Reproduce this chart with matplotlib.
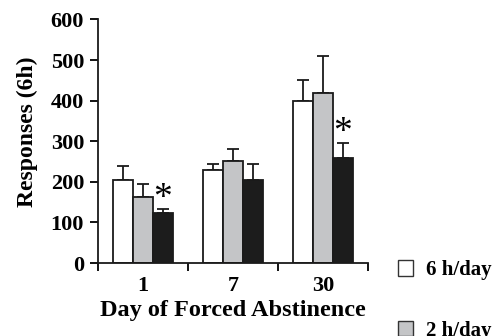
import matplotlib
matplotlib.use("Agg")
import matplotlib.pyplot as plt
import numpy as np
from matplotlib.patches import Patch

days = ["1", "7", "30"]
series = ["6 h/day", "2 h/day", "1 h/day"]
means = {
    "6 h/day": [205, 229, 398],
    "2 h/day": [164, 251, 420],
    "1 h/day": [124, 205, 260],
}
sems = {
    "6 h/day": [33, 16, 54],
    "2 h/day": [30, 30, 91],
    "1 h/day": [10, 39, 35],
}
colors = ["#ffffff", "#c4c5c7", "#1c1c1c"]
significant = {"1 h/day": [True, False, True]}

plt.rcParams["font.family"] = ["Liberation Serif", "DejaVu Serif"]
plt.rcParams["font.weight"] = "bold"

fig = plt.figure(figsize=(4.96, 3.36), dpi=100)
ax = fig.add_axes([0.1976, 0.217, 0.5444, 0.725])

x = np.arange(len(days))
w = 0.222
for i, s in enumerate(series):
    xs = x + (i - 1) * w
    ax.bar(xs, means[s], width=w, color=colors[i], edgecolor="#1a1a1a",
           linewidth=1.3, zorder=2)
    ax.errorbar(xs, means[s], yerr=[np.zeros(len(days)), sems[s]], fmt="none",
                ecolor="#1a1a1a", elinewidth=1.3, capsize=4.3, capthick=1.3, zorder=1)
    if s in significant:
        for j, sig in enumerate(significant[s]):
            if sig:
                ax.annotate("*", (xs[j], means[s][j] + sems[s][j]),
                            xytext=(0, -5), textcoords="offset points",
                            ha="center", va="bottom", fontsize=27,
                            fontweight="normal")

ax.set_xlim(-0.5, 2.5)
ax.set_ylim(0, 600)
ax.set_yticks(np.arange(0, 601, 100))
ax.set_xticks([-0.5, 0.5, 1.5, 2.5])
ax.set_xticklabels([])
ax.set_xticks(x, minor=True)
ax.set_xticklabels(days, minor=True)
ax.tick_params(axis="x", which="minor", length=0, pad=9, labelsize=16)
ax.tick_params(axis="x", which="major", length=6, width=1.3, direction="out")
ax.tick_params(axis="y", length=6, width=1.3, direction="out", labelsize=16, pad=4)
for sp in ["top", "right"]:
    ax.spines[sp].set_visible(False)
for sp in ["left", "bottom"]:
    ax.spines[sp].set_linewidth(1.3)
    ax.spines[sp].set_color("#1a1a1a")

ax.set_ylabel("Responses (6h)", fontsize=17, fontweight="bold")
ax.yaxis.set_label_coords(-0.224, 0.54)
ax.set_xlabel("Day of Forced Abstinence", fontsize=17.5, fontweight="bold", labelpad=3)

handles = [Patch(facecolor=colors[i], edgecolor="#333333", linewidth=1.0) for i in range(3)]
leg = fig.legend(handles, series, loc="upper left", bbox_to_anchor=(0.785, 0.25),
                 frameon=False, fontsize=15, handlelength=0.75, handleheight=0.75,
                 labelspacing=1.95, handletextpad=0.6, borderaxespad=0)

fig.savefig("out.png", dpi=100)
